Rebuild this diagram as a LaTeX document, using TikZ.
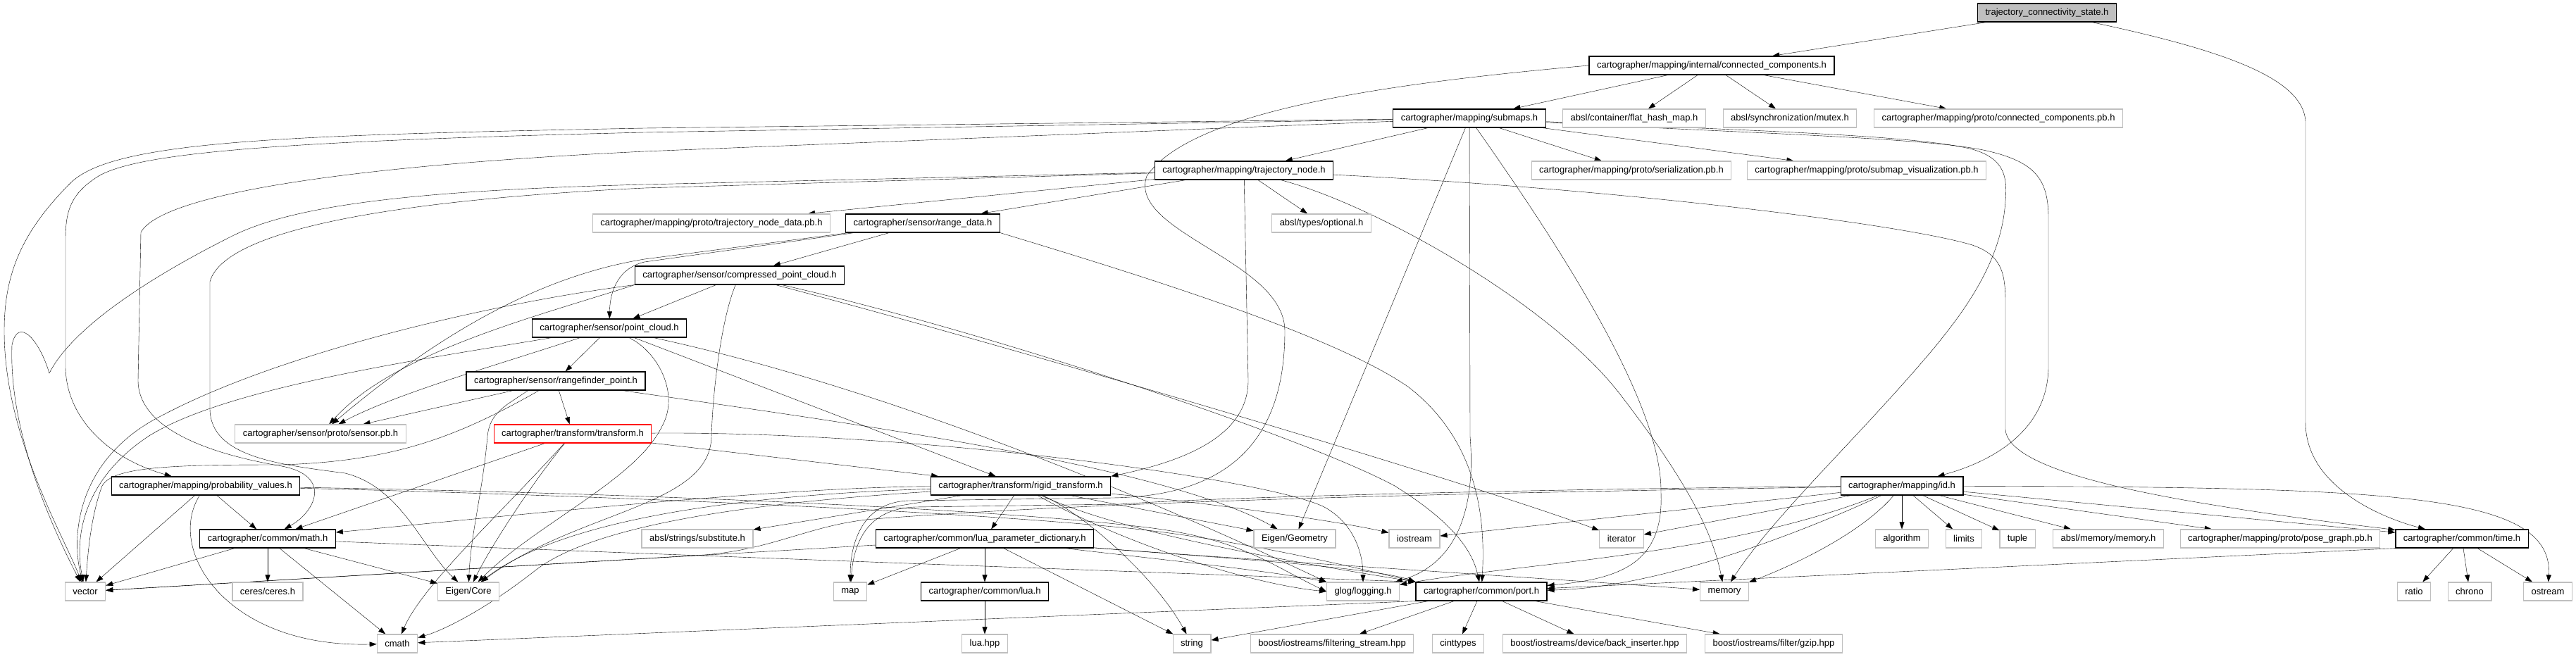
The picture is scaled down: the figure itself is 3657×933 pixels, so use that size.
\documentclass[tikz,border=0pt]{standalone}
\usepackage{fontspec}
\setmainfont{Liberation Sans}
\usepackage{tikz}
\usetikzlibrary{arrows.meta,backgrounds}
\definecolor{edgeblue}{HTML}{191970}
\definecolor{boxgray}{HTML}{BFBFBF}

\begin{document}
\begin{tikzpicture}[x=1pt, y=-1pt, -{Triangle[length=10pt,width=7pt]}, color=edgeblue, line width=1.2pt,
      every node/.append style={text=black, fill=white, line width=1.2pt, minimum height=26pt,
        inner xsep=11pt, inner ysep=0pt, font=\fontsize{13}{15}\selectfont}]
      \tikzstyle{rootfile} = [draw=black, fill=boxgray]
      \tikzstyle{projfile} = [draw=black]
      \tikzstyle{sysfile} = [draw=boxgray]
      \tikzstyle{cutfile} = [draw=red]
      \useasboundingbox (0,0) rectangle (3657,933);
      \node (connectivitystate) [rootfile] at (2906,18) {trajectory\_connectivity\_state.h};
      \node (connectedcomponents) [projfile] at (2430,93) {cartographer/mapping/internal/connected\_components.h};
      \node (submaps) [projfile] at (2086,168) {cartographer/mapping/submaps.h};
      \node (flathashmap) [sysfile] at (2320,168) {absl/container/flat\_hash\_map.h};
      \node (mutex) [sysfile] at (2541,168) {absl/synchronization/mutex.h};
      \node (connectedcomponentspb) [sysfile] at (2837,168) {cartographer/mapping/proto/connected\_components.pb.h};
      \node (trajectorynode) [projfile] at (1766,242) {cartographer/mapping/trajectory\_node.h};
      \node (serializationpb) [sysfile] at (2316,242) {cartographer/mapping/proto/serialization.pb.h};
      \node (submapvisualizationpb) [sysfile] at (2650,242) {cartographer/mapping/proto/submap\_visualization.pb.h};
      \node (trajectorynodedatapb) [sysfile] at (1010,317) {cartographer/mapping/proto/trajectory\_node\_data.pb.h};
      \node (rangedata) [projfile] at (1310,317) {cartographer/sensor/range\_data.h};
      \node (optional) [sysfile] at (1876,317) {absl/types/optional.h};
      \node (compressedpointcloud) [projfile] at (1050,391) {cartographer/sensor/compressed\_point\_cloud.h};
      \node (pointcloud) [projfile] at (865,466) {cartographer/sensor/point\_cloud.h};
      \node (rangefinderpoint) [projfile] at (789,541) {cartographer/sensor/rangefinder\_point.h};
      \node (sensorpb) [sysfile] at (455,616) {cartographer/sensor/proto/sensor.pb.h};
      \node (transform) [cutfile] at (813,616) {cartographer/transform/transform.h};
      \node (probabilityvalues) [projfile] at (292,690) {cartographer/mapping/probability\_values.h};
      \node (rigidtransform) [projfile] at (1449,690) {cartographer/transform/rigid\_transform.h};
      \node (id) [projfile] at (2700,690) {cartographer/mapping/id.h};
      \node (math) [projfile] at (380,765) {cartographer/common/math.h};
      \node (substitute) [sysfile] at (990,765) {absl/strings/substitute.h};
      \node (luaparameterdictionary) [projfile] at (1398,765) {cartographer/common/lua\_parameter\_dictionary.h};
      \node (eigengeometry) [sysfile] at (1838,765) {Eigen/Geometry};
      \node (iostream) [sysfile] at (2008,765) {iostream};
      \node (iterator) [sysfile] at (2302,765) {iterator};
      \node (algorithm) [sysfile] at (2700,765) {algorithm};
      \node (limits) [sysfile] at (2788,765) {limits};
      \node (tuple) [sysfile] at (2864,765) {tuple};
      \node (abslmemory) [sysfile] at (2993,765) {absl/memory/memory.h};
      \node (posegraphpb) [sysfile] at (3237,765) {cartographer/mapping/proto/pose\_graph.pb.h};
      \node (time) [projfile] at (3495,765) {cartographer/common/time.h};
      \node (vector) [sysfile] at (121,840) {vector};
      \node (ceres) [sysfile] at (380,840) {ceres/ceres.h};
      \node (eigencore) [sysfile] at (665,840) {Eigen/Core};
      \node (map) [sysfile] at (1207,840) {map};
      \node (lua) [projfile] at (1398,840) {cartographer/common/lua.h};
      \node (logging) [sysfile] at (1935,840) {glog/logging.h};
      \node (port) [projfile] at (2103,840) {cartographer/common/port.h};
      \node (memory) [sysfile] at (2448,840) {memory};
      \node (ratio) [sysfile] at (3427,840) {ratio};
      \node (chrono) [sysfile] at (3506,840) {chrono};
      \node (ostream) [sysfile] at (3617,840) {ostream};
      \node (cmath) [sysfile] at (564,914) {cmath};
      \node (luahpp) [sysfile] at (1398,914) {lua.hpp};
      \node (string) [sysfile] at (1692,914) {string};
      \node (filteringstream) [sysfile] at (1891,914) {boost/iostreams/filtering\_stream.hpp};
      \node (cinttypes) [sysfile] at (2070,914) {cinttypes};
      \node (backinserter) [sysfile] at (2264,914) {boost/iostreams/device/back\_inserter.hpp};
      \node (gzip) [sysfile] at (2518,914) {boost/iostreams/filter/gzip.hpp};
      \begin{scope}[on background layer]
      \draw (connectivitystate) edge (connectedcomponents);
      \draw (connectivitystate) .. controls (3150,70) and (3273,110) .. (3273,175) -- (3273,600) .. controls (3273,690) and (3380,735) .. (time);
      \draw (connectedcomponents) edge (submaps) edge (flathashmap) edge (mutex) edge (connectedcomponentspb);
      \draw (connectedcomponents.west) .. controls (1950,120) and (1690,160) .. (1628,250) .. controls (1600,330) and (1824,370) .. (1824,470) .. controls (1824,610) and (1760,704) .. (1580,707) -- (1290,711) .. controls (1225,713) and (1207,770) .. (map);
      \draw (submaps) edge (trajectorynode) edge (serializationpb) edge (submapvisualizationpb) edge (eigengeometry);
      \draw (submaps) .. controls (2500,190) and (2740,196) .. (2820,214) .. controls (2890,230) and (2908,255) .. (2908,310) -- (2908,520) .. controls (2908,610) and (2830,655) .. (id);
      \draw (submaps) .. controls (2500,186) and (2720,192) .. (2800,212) .. controls (2845,225) and (2850,250) .. (2847,285) .. controls (2842,370) and (2790,440) .. (2745,495) .. controls (2640,620) and (2520,730) .. (memory);
      \draw (submaps) -- (915,182) .. controls (400,192) and (160,200) .. (100,260) .. controls (30,330) and (6,390) .. (6,470) .. controls (6,620) and (90,760) .. (vector);
      \draw (submaps) -- (915,188) .. controls (420,200) and (200,215) .. (140,250) .. controls (100,275) and (93,300) .. (93,340) -- (93,520) .. controls (93,590) and (150,650) .. (probabilityvalues);
      \draw (submaps) -- (915,215) .. controls (500,235) and (230,275) .. (200,330) -- (196,540) .. controls (196,610) and (300,645) .. (400,662) .. controls (470,675) and (450,725) .. (math);
      \draw (submaps) -- (2087,620) .. controls (2095,720) and (2070,800) .. (logging);
      \draw (submaps) .. controls (2250,400) and (2360,590) .. (2358,700) .. controls (2362,800) and (2300,822) .. (port);
      \draw (trajectorynode) edge (trajectorynodedatapb) edge (rangedata) edge (optional);
      \draw (trajectorynode) -- (1772,540) .. controls (1772,620) and (1680,655) .. (rigidtransform.north east);
      \draw (trajectorynode) -- (915,262) .. controls (600,270) and (420,290) .. (330,335) .. controls (200,400) and (100,470) .. (70,530) .. controls (55,480) and (25,450) .. (17,490) .. controls (12,620) and (80,760) .. (vector);
      \draw (trajectorynode) -- (915,267) .. controls (600,282) and (320,320) .. (298,400) -- (298,580) .. controls (298,650) and (400,660) .. (490,672) .. controls (570,692) and (600,780) .. (eigencore);
      \draw (trajectorynode) .. controls (2300,268) and (2700,318) .. (2800,348) .. controls (2840,362) and (2847,385) .. (2847,430) -- (2847,610) .. controls (2850,660) and (3000,692) .. (3100,710) .. controls (3250,736) and (3350,746) .. (time);
      \draw (trajectorynode) .. controls (1950,290) and (2200,430) .. (2300,560) .. controls (2400,690) and (2432,760) .. (memory);
      \draw (rangedata) edge (compressedpointcloud);
      \draw (rangedata) -- (915,372) .. controls (880,380) and (866,410) .. (pointcloud);
      \draw (rangedata) -- (915,368) .. controls (780,390) and (640,460) .. (sensorpb);
      \draw (rangedata.south east) .. controls (1650,400) and (1900,480) .. (2000,550) .. controls (2090,620) and (2110,720) .. (port);
      \draw (compressedpointcloud) edge (pointcloud);
      \draw (compressedpointcloud.south west) .. controls (700,430) and (400,500) .. (230,590) .. controls (110,650) and (100,760) .. (vector);
      \draw (compressedpointcloud.south west) .. controls (760,450) and (560,500) .. (sensorpb);
      \draw (compressedpointcloud) .. controls (1025,450) and (1012,550) .. (1010,620) .. controls (1008,720) and (820,725) .. (eigencore);
      \draw (compressedpointcloud) .. controls (1500,510) and (2100,690) .. (iterator);
      \draw (compressedpointcloud) .. controls (1400,470) and (1850,620) .. (1980,690) .. controls (2060,740) and (2090,780) .. (port);
      \draw (pointcloud) edge (rangefinderpoint) edge (rigidtransform);
      \draw (pointcloud) .. controls (600,510) and (320,550) .. (210,620) .. controls (120,680) and (105,760) .. (vector);
      \draw (pointcloud) .. controls (700,520) and (560,560) .. (sensorpb);
      \draw (pointcloud) .. controls (935,500) and (965,560) .. (940,605) .. controls (905,680) and (760,745) .. (eigencore);
      \draw (pointcloud) .. controls (1300,560) and (1700,740) .. (logging.north west);
      \draw (rangefinderpoint) edge (sensorpb) edge (transform);
      \draw (rangefinderpoint) .. controls (650,620) and (560,655) .. (400,660) .. controls (250,660) and (160,662) .. (145,690) .. controls (130,730) and (125,780) .. (vector);
      \draw (rangefinderpoint.199) .. controls (720,575) and (695,585) .. (692,620) .. controls (685,700) and (668,760) .. (eigencore);
      \draw (rangefinderpoint) .. controls (1200,600) and (1650,660) .. (eigengeometry);
      \draw (transform) edge (math) edge (rigidtransform);
      \draw (transform) .. controls (760,680) and (700,770) .. (eigencore);
      \draw (transform) .. controls (720,720) and (600,830) .. (cmath);
      \draw (transform) .. controls (1300,612) and (1800,680) .. (1880,720) .. controls (1925,745) and (1935,790) .. (logging);
      \draw (rigidtransform) edge (substitute) edge (luaparameterdictionary) edge (eigengeometry);
      \draw (rigidtransform) .. controls (1540,730) and (1640,820) .. (string);
      \draw (rigidtransform) .. controls (1700,712) and (1900,740) .. (iostream);
      \draw (rigidtransform) .. controls (1600,760) and (1850,800) .. (port.north west);
      \draw (rigidtransform) .. controls (1600,775) and (1780,830) .. (logging.west);
      \draw (rigidtransform) .. controls (1100,692) and (700,735) .. (math);
      \draw (rigidtransform) .. controls (1150,700) and (820,720) .. (eigencore);
      \draw (rigidtransform) .. controls (1100,712) and (850,740) .. (760,810) .. controls (690,865) and (630,895) .. (cmath);
      \draw (luaparameterdictionary) edge (map) edge (lua) edge (string) edge (vector);
      \draw (luaparameterdictionary) .. controls (1700,790) and (2250,825) .. (memory);
      \draw (luaparameterdictionary) .. controls (1700,790) and (1950,805) .. (port.north west);
      \draw (luaparameterdictionary) .. controls (1650,795) and (1800,810) .. (logging.north west);
      \draw (lua) edge (luahpp);
      \draw (math) edge (vector) edge (ceres) edge (cmath) edge (eigencore);
      \draw (math) .. controls (1000,790) and (1700,815) .. (port.north west);
      \draw (probabilityvalues) edge (vector) edge (math);
      \draw (probabilityvalues) .. controls (235,780) and (320,920) .. (cmath);
      \draw (probabilityvalues) .. controls (900,700) and (1400,722) .. (1620,748) .. controls (1760,764) and (1800,800) .. (logging.west);
      \draw (probabilityvalues) .. controls (900,705) and (1400,728) .. (1620,752) .. controls (1760,768) and (1900,800) .. (port.north west);
      \draw (port.south west) -- (cmath);
      \draw (port) edge (string) edge (filteringstream) edge (cinttypes) edge (backinserter) edge (gzip);
      \draw (time) edge (ratio) edge (chrono) edge (ostream);
      \draw (time.south west) -- (port);
      \draw (id) edge (algorithm) edge (limits) edge (tuple) edge (abslmemory) edge (posegraphpb) edge (time) edge (iostream) edge (iterator);
      \draw (id) .. controls (3400,692) and (3625,700) .. (ostream);
      \draw (id) .. controls (2640,760) and (2540,805) .. (memory);
      \draw (id) .. controls (2550,760) and (2350,835) .. (port);
      \draw (id) .. controls (2450,790) and (2150,800) .. (logging);
      \draw (id) .. controls (2300,693) and (1750,704) .. (1590,716) -- (1300,720) .. controls (1232,722) and (1212,770) .. (map);
      \draw (id) .. controls (2100,700) and (1600,710) .. (1240,737) .. controls (1150,745) and (1100,780) .. (1000,788) -- (vector);
      \end{scope}
\end{tikzpicture}
\end{document}
